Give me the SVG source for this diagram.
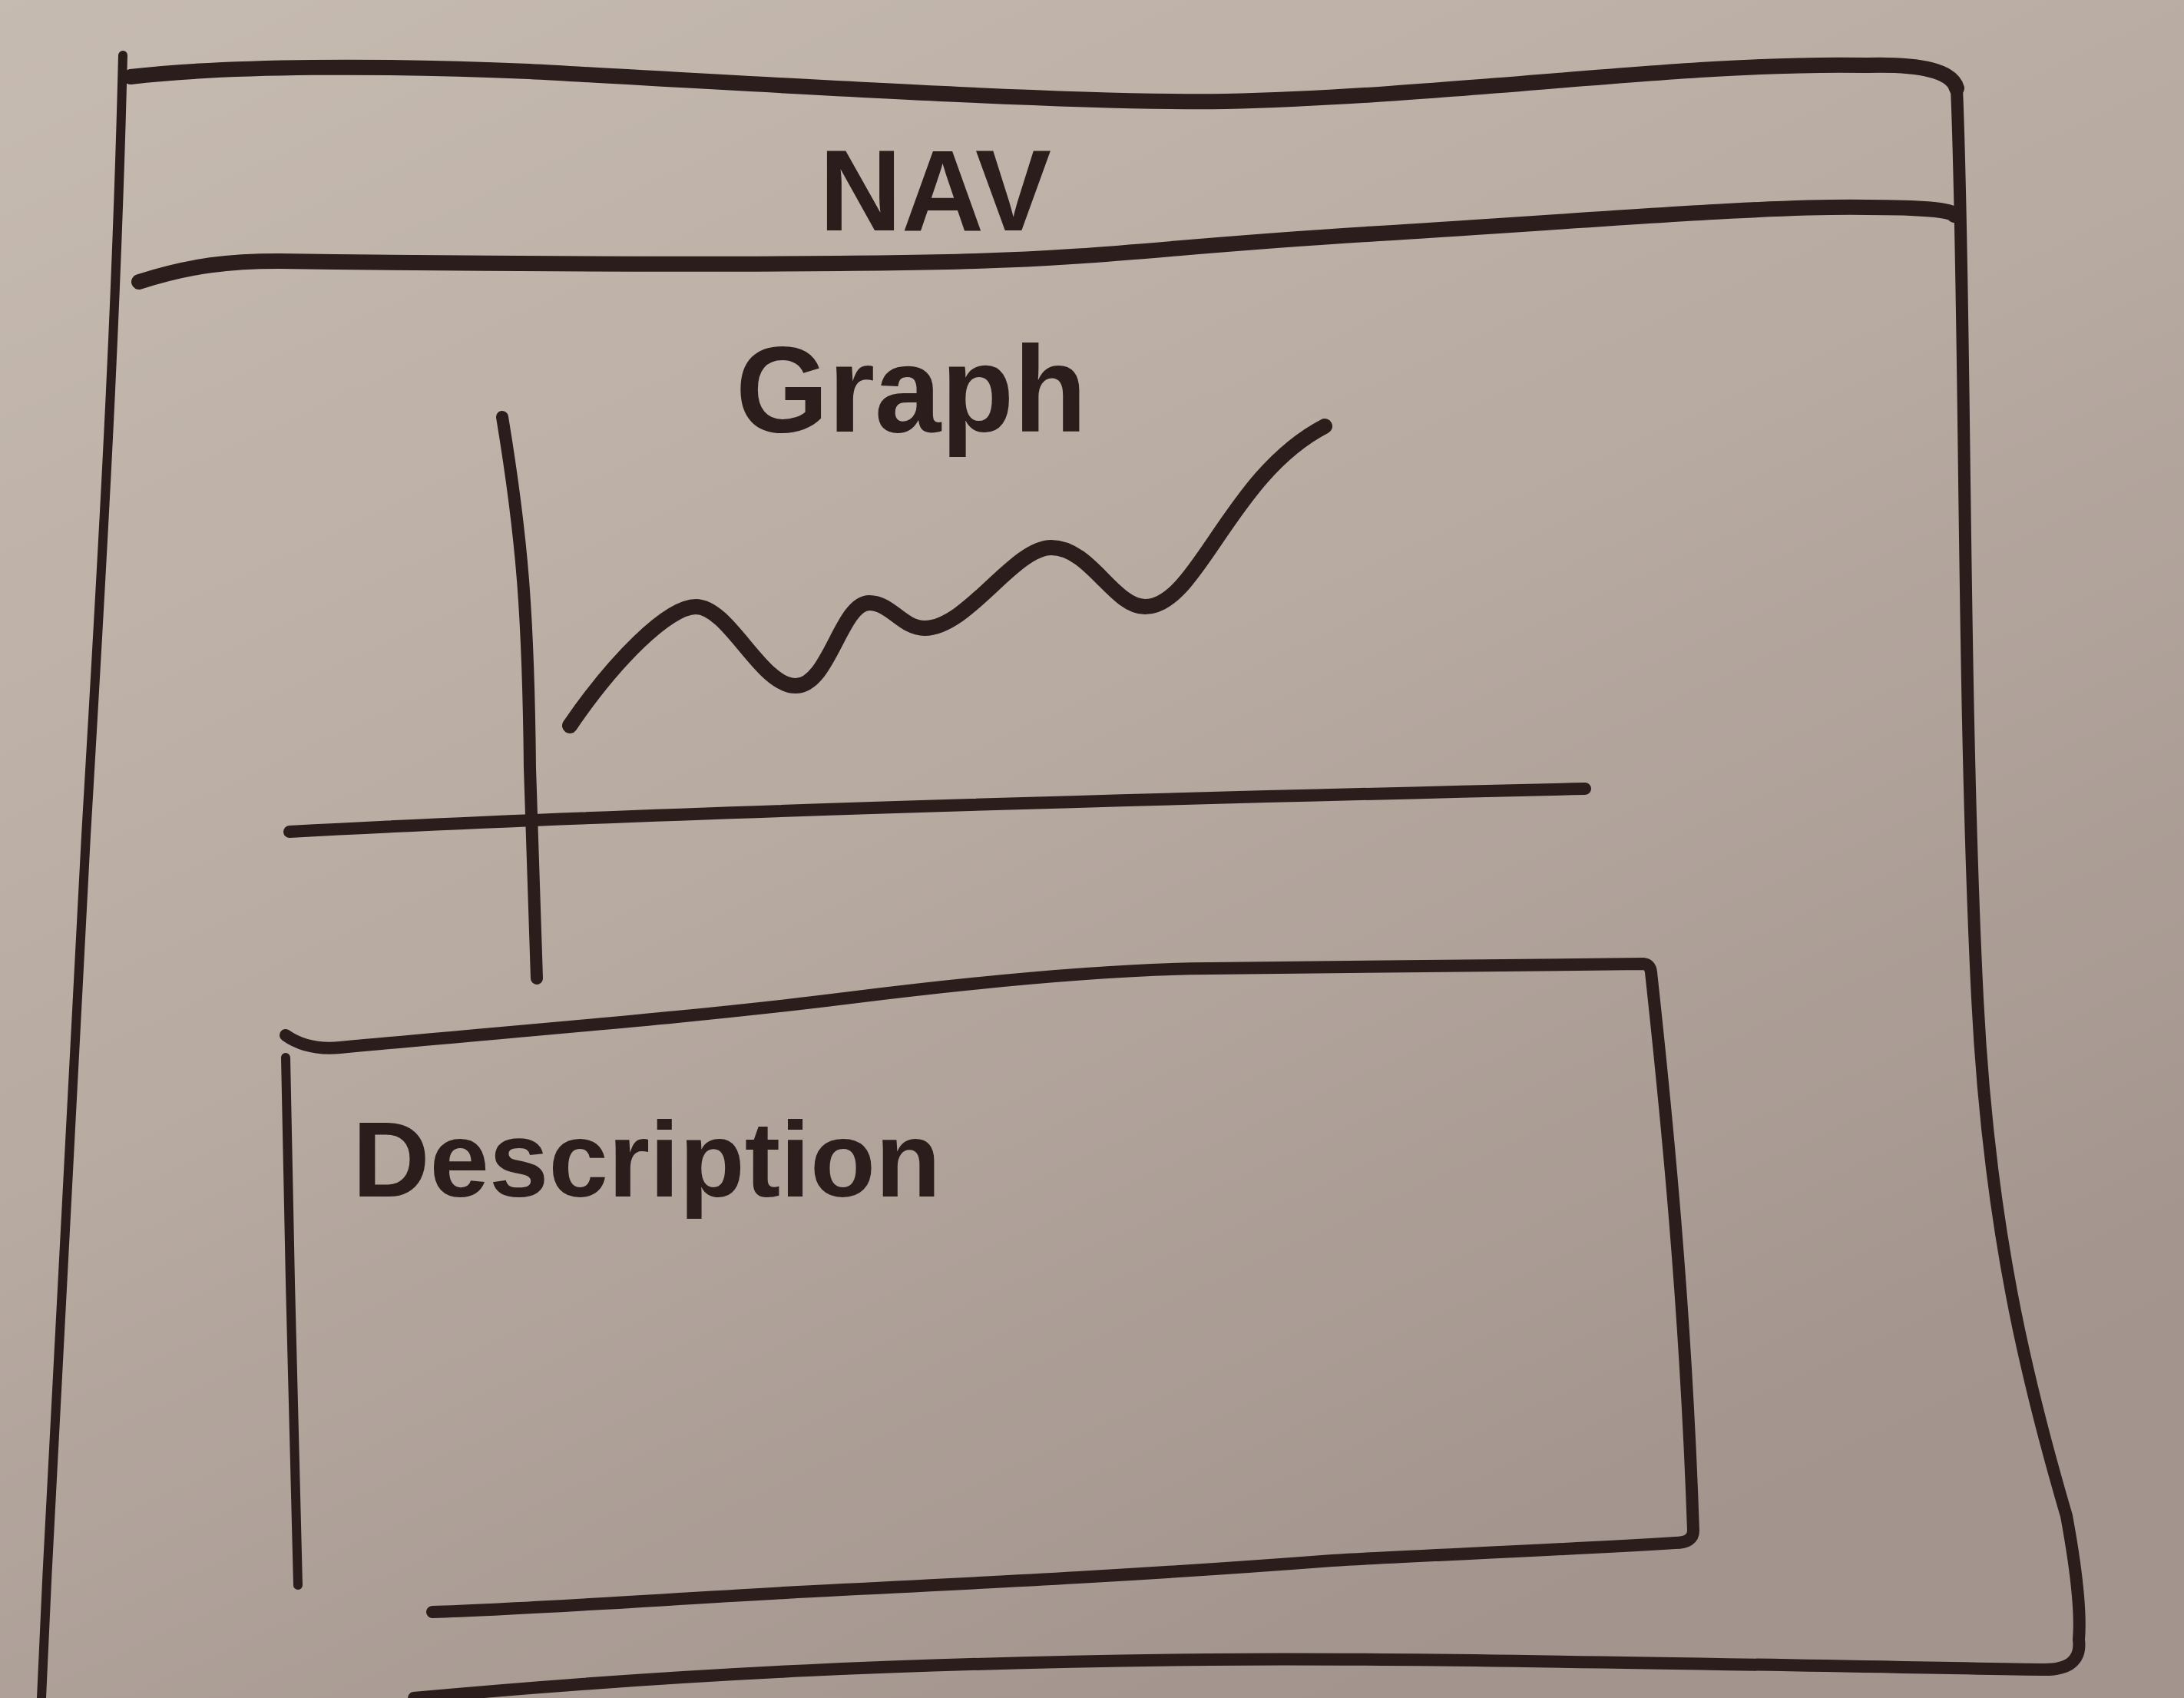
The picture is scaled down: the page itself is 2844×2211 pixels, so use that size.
<svg xmlns="http://www.w3.org/2000/svg" width="2844" height="2211" viewBox="0 0 2844 2211">
<style>
.ink{fill:none;stroke:#2b1d1b;stroke-linecap:round;stroke-linejoin:round}
.thick{stroke-width:20}
.mid{stroke-width:16}
.thin{stroke-width:12}
.lbl{font-family:"Liberation Sans","DejaVu Sans",sans-serif;fill:#2b1d1b;font-weight:bold}
</style>
<defs>
<linearGradient id="bg" x1="0" y1="0" x2="0.6" y2="1">
<stop offset="0" stop-color="#c6bbb1"/>
<stop offset="0.5" stop-color="#b8aba2"/>
<stop offset="1" stop-color="#a3958d"/>
</linearGradient>
</defs>
<rect x="0" y="0" width="2844" height="2211" fill="url(#bg)"/>
<g id="frame">
<path class="ink thin" d="M160,72 C152,400 135,700 112,1088 C90,1500 70,1850 54,2211"/>
<path class="ink thick" d="M170,100 C300,85 500,85 689,93 C1000,110 1400,135 1596,132 C1900,125 2200,80 2431,85 Q2539,82 2548,115"/>
<path class="ink mid" d="M2548,115 C2560,400 2555,900 2575,1300 C2590,1600 2640,1800 2691,1974 C2705,2050 2710,2100 2707,2135 Q2712,2175 2660,2174 C2300,2168 1800,2158 1575,2161 C1200,2165 900,2178 539,2211"/>
</g>
<g id="nav">
<path class="ink thick" d="M181,367 C250,345 300,340 363,340 C700,345 1100,345 1270,340 C1450,335 1550,318 1814,303 C2100,285 2300,268 2431,270 Q2539,270 2545,280"/>
<text class="lbl" x="1067" y="300" font-size="150" textLength="302" lengthAdjust="spacingAndGlyphs">NAV</text>
</g>
<g id="graph">
<text class="lbl" x="958" y="562" font-size="160" textLength="457" lengthAdjust="spacingAndGlyphs">Graph</text>
<path class="ink mid" d="M654,543 C680,700 688,800 690,1000 L699,1274"/>
<path class="ink mid" d="M377,1083 C800,1060 1500,1040 2064,1027"/>
<path class="ink thick" d="M742,945 C800,860 870,790 906,790 C950,790 990,893 1036,893 C1080,893 1095,785 1132,785 C1160,785 1175,818 1204,818 C1260,818 1320,713 1369,713 C1420,713 1450,790 1491,790 C1560,790 1600,620 1725,555"/>
</g>
<g id="description">
<path class="ink mid" d="M372,1348 Q400,1368 443,1364 C700,1340 900,1325 1100,1300 C1300,1275 1450,1262 1575,1261 C1800,1258 2000,1255 2140,1255 Q2149,1256 2150,1266 C2170,1450 2195,1700 2205,1993 Q2205,2009 2181,2009 C2000,2020 1850,2025 1735,2032 C1500,2050 1300,2060 1097,2070 C900,2080 700,2095 563,2099"/>
<path class="ink thin" d="M372,1377 C376,1600 382,1850 388,2064"/>
<text class="lbl" x="459" y="1558" font-size="140" textLength="766" lengthAdjust="spacingAndGlyphs">Description</text>
</g>
</svg>
